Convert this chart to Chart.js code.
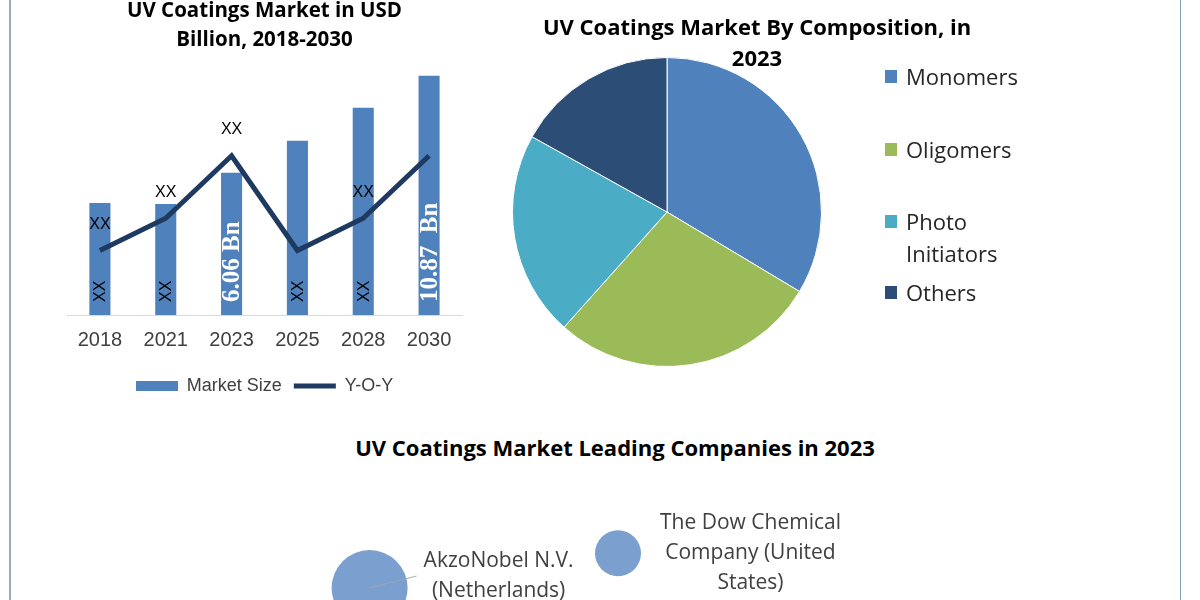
<!DOCTYPE html>
<html>
<head>
<meta charset="utf-8">
<script src="https://cdn.jsdelivr.net/npm/chart.js@4.4.1/dist/chart.umd.min.js"></script>
<style>
html, body { margin: 0; padding: 0; background: #fff; }
body { width: 1200px; height: 600px; position: relative; overflow: hidden; }
canvas { position: absolute; }
#bar { left: 0; top: -3px; }
#pie { left: 512px; top: 57px; }
#bubble { left: 0; top: 470px; }
.frame-l { position: absolute; left: 9px; top: 0; width: 2px; height: 600px; background: #9aabb8; }
.frame-r { position: absolute; left: 1180px; top: 0; width: 1px; height: 600px; background: #8a9fb8; }
.title { position: absolute; font-family: "Open Sans"; font-weight: bold; color: #000; text-align: center; white-space: nowrap; }
#pieTitle { left: 457px; width: 600px; top: 11px; font-size: 22px; line-height: 31px; }
#compTitle { left: 315px; width: 600px; top: 432px; font-size: 22px; line-height: 30px; }
#pieLegend { position: absolute; left: 885px; top: 0; }
.pl-item { position: absolute; left: 0; width: 150px; font-family: "Open Sans"; font-size: 22px; line-height: 32px; color: #262626; }
.pl-item .sw { position: absolute; left: 0; top: 10px; width: 12px; height: 13px; }
.pl-item .tx { display: block; margin-left: 21px; width: 125px; }
</style>
</head>
<body>
<div class="frame-l"></div>
<div class="frame-r"></div>
<canvas id="bar" width="480" height="410"></canvas>
<div id="pieTitle" class="title">UV Coatings Market By Composition, in<br>2023</div>
<canvas id="pie" width="310" height="310"></canvas>
<div id="pieLegend"></div>
<div id="compTitle" class="title">UV Coatings Market Leading Companies in 2023</div>
<canvas id="bubble" width="1200" height="130"></canvas>
<script>
// market size chart
const years = ["2018", "2021", "2023", "2025", "2028", "2030"];
const marketSize = [4.56, 4.51, 6.06, 7.64, 9.28, 10.87];
const yoy = [2.2, 3.8, 6.9, 2.2, 3.8, 6.9];
const barLabels = ["XX", "XX", "6.06 Bn", "XX", "XX", "10.87  Bn"];
const lineLabels = ["XX", "XX", "XX", "", "XX", ""];

// composition pie
const compLabels = ["Monomers", "Oligomers", "Photo Initiators", "Others"];
const compShares = [33.6, 28.0, 21.5, 16.9];
const compColors = ["#4f81bd", "#9bbb59", "#4bacc6", "#2c4d75"];

// leading companies
const companies = [["AkzoNobel N.V.", "(Netherlands)"], ["The Dow Chemical", "Company (United", "States)"]];
const companyX = [30.8, 51.5];
const companyY = [0.92, 3.6];
const companyR = [38, 23];

const barColor = "#4f81bd";
const lineColor = "#1f3a60";

const swatch = document.createElement("canvas");
swatch.width = 42;
swatch.height = 10;
const sctx = swatch.getContext("2d");
sctx.fillStyle = barColor;
sctx.fillRect(0, 0, 42, 10);

const barLabelPlugin = {
    id: "barLabels",
    afterDatasetsDraw(chart) {
        const ctx = chart.ctx;
        const bars = chart.getDatasetMeta(0).data;
        const pts = chart.getDatasetMeta(1).data;
        ctx.save();
        bars.forEach((bar, i) => {
            const txt = barLabels[i];
            const isValue = txt !== "XX";
            ctx.save();
            ctx.translate(bar.x, bar.base - 13);
            ctx.rotate(-Math.PI / 2);
            ctx.textAlign = "left";
            ctx.textBaseline = "middle";
            ctx.font = isValue ? 'bold 25px "Liberation Serif"' : '16px "Liberation Sans"';
            ctx.fillStyle = isValue ? "#ffffff" : "#000000";
            ctx.fillText(txt, 0, 1);
            ctx.restore();
        });
        ctx.font = '16px "Liberation Sans"';
        ctx.fillStyle = "#000000";
        ctx.textAlign = "center";
        ctx.textBaseline = "middle";
        pts.forEach((p, i) => {
            if (lineLabels[i]) ctx.fillText(lineLabels[i], p.x, p.y - 26);
        });
        ctx.restore();
    }
};

new Chart(document.getElementById("bar"), {
    type: "bar",
    data: {
        labels: years,
        datasets: [{
            type: "bar",
            label: "Market Size",
            data: marketSize,
            backgroundColor: barColor,
            base: -1,
            barPercentage: 0.32,
            categoryPercentage: 1,
            order: 2
        }, {
            type: "line",
            label: "Y-O-Y",
            data: yoy,
            borderColor: lineColor,
            backgroundColor: lineColor,
            borderWidth: 5,
            pointRadius: 0,
            tension: 0,
            order: 1
        }]
    },
    options: {
        responsive: false,
        animation: false,
        layout: { padding: { left: 67, right: 18, top: 0, bottom: 2 } },
        scales: {
            x: {
                grid: { display: false, drawTicks: false },
                border: { display: true, color: "#d9d9d9", width: 1 },
                ticks: { color: "#404040", padding: 13, font: { family: "Liberation Sans", size: 20 } }
            },
            y: { display: false, min: -1, max: 11.4 }
        },
        plugins: {
            title: {
                display: true,
                text: ["UV Coatings Market in USD", "Billion, 2018-2030"],
                color: "#000",
                font: { family: "Open Sans", size: 20.5, weight: "bold", lineHeight: 29 / 20.5 },
                padding: { top: 0, bottom: 10 }
            },
            legend: {
                position: "bottom",
                labels: {
                    usePointStyle: true,
                    pointStyleWidth: 42,
                    padding: 12,
                    color: "#404040",
                    font: { family: "Liberation Sans", size: 18 },
                    generateLabels(chart) {
                        const items = Chart.defaults.plugins.legend.labels.generateLabels(chart);
                        items.sort((a, b) => a.datasetIndex - b.datasetIndex);
                        items.forEach(it => {
                            if (it.datasetIndex === 0) {
                                it.pointStyle = swatch;
                            } else {
                                it.pointStyle = "line";
                                it.lineWidth = 5;
                                it.strokeStyle = lineColor;
                            }
                        });
                        return items;
                    }
                }
            },
            tooltip: { enabled: false }
        }
    },
    plugins: [barLabelPlugin]
});

new Chart(document.getElementById("pie"), {
    type: "pie",
    data: {
        labels: compLabels,
        datasets: [{
            data: compShares,
            backgroundColor: compColors,
            borderColor: "#ffffff",
            borderWidth: 1,
            offset: 0,
            hoverOffset: 0
        }]
    },
    options: {
        responsive: false,
        animation: false,
        layout: { padding: 0 },
        plugins: { legend: { display: false }, tooltip: { enabled: false } }
    }
});

// html legend for the pie, built from the same arrays
const legendTops = [60, 133, 205, 276];
const pieLegend = document.getElementById("pieLegend");
compLabels.forEach((name, i) => {
    const item = document.createElement("div");
    item.className = "pl-item";
    item.style.top = legendTops[i] + "px";
    item.innerHTML = '<span class="sw" style="background:' + compColors[i] + '"></span><span class="tx">' + name + '</span>';
    pieLegend.appendChild(item);
});

const bubbleLabelPlugin = {
    id: "bubbleLabels",
    afterDatasetsDraw(chart) {
        const ctx = chart.ctx;
        const els = chart.getDatasetMeta(0).data;
        const gaps = [16, 19];
        const shiftY = [-12, 0];
        const lh = 30;
        ctx.save();
        ctx.font = '21px "Open Sans"';
        ctx.fillStyle = "#404040";
        ctx.textAlign = "center";
        ctx.textBaseline = "middle";
        els.forEach((el, i) => {
            const lines = companies[i];
            const w = Math.max(...lines.map(l => ctx.measureText(l).width));
            const left = el.x + companyR[i] + gaps[i];
            const cx = left + w / 2;
            const cy = el.y + shiftY[i];
            const y0 = cy - (lines.length - 1) * lh / 2;
            lines.forEach((l, k) => ctx.fillText(l, cx, y0 + k * lh));
            if (i === 0) {
                ctx.strokeStyle = "rgba(160,165,175,0.85)";
                ctx.lineWidth = 1.2;
                ctx.beginPath();
                ctx.moveTo(el.x, el.y);
                ctx.lineTo(left - 7, cy);
                ctx.stroke();
            }
        });
        ctx.restore();
    }
};

new Chart(document.getElementById("bubble"), {
    type: "bubble",
    data: {
        datasets: [{
            data: companies.map((c, i) => ({ x: companyX[i], y: companyY[i], r: companyR[i] })),
            backgroundColor: "#7ba0cf",
            borderWidth: 0,
            hoverRadius: 0,
            clip: false
        }]
    },
    options: {
        responsive: false,
        animation: false,
        layout: { padding: 0, autoPadding: false },
        scales: {
            x: { display: false, min: 0, max: 100 },
            y: { display: false, min: 0, max: 10 }
        },
        plugins: { legend: { display: false }, tooltip: { enabled: false } }
    },
    plugins: [bubbleLabelPlugin]
});
</script>
</body>
</html>
